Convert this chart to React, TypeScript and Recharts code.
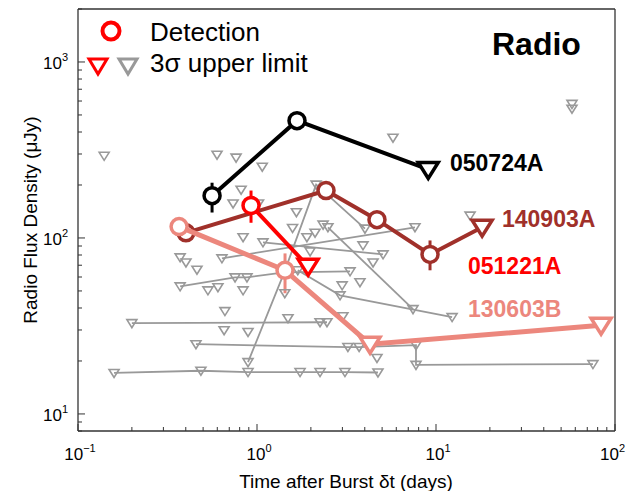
import React from 'react';
import { ScatterChart, Scatter, XAxis, YAxis, ErrorBar } from 'recharts';

const FONT = '"Liberation Sans", Arial, Helvetica, sans-serif';

type Pt = { t: number; f: number; ul?: boolean; lo?: number; hi?: number };

// Highlighted bursts (t in days, f in microJy); ul = 3-sigma upper limit
const grb050724A: Pt[] = [
  { t: 0.561, f: 174, lo: 139.5, hi: 206 },
  { t: 1.673, f: 464 },
  { t: 9.05, f: 245, ul: true },
];
const grb140903A: Pt[] = [
  { t: 0.401, f: 107 },
  { t: 2.43, f: 186 },
  { t: 4.68, f: 127 },
  { t: 9.26, f: 80.6, lo: 65.5, hi: 96.8 },
  { t: 18.1, f: 115, ul: true },
];
const grb051221A: Pt[] = [
  { t: 0.926, f: 153, lo: 122, hi: 186 },
  { t: 1.93, f: 69, ul: true },
];
const grb130603B: Pt[] = [
  { t: 0.367, f: 116 },
  { t: 1.434, f: 65.5, lo: 48.5, hi: 81.7 },
  { t: 4.28, f: 24.9, ul: true },
  { t: 83.6, f: 31.9, ul: true },
];

// Other bursts: grey upper-limit tracks
const grey1: Pt[] = [
  { t: 0.159, f: 17.1 }, { t: 0.486, f: 17.6 }, { t: 0.891, f: 17.3 }, { t: 1.74, f: 17.3 },
  { t: 2.25, f: 17.3 }, { t: 3.1, f: 17.3 }, { t: 4.74, f: 17.2 },
];
const grey2: Pt[] = [
  { t: 0.456, f: 24.9 }, { t: 3.22, f: 24.0 }, { t: 3.72, f: 24.0 }, { t: 7.73, f: 24.6 },
  { t: 7.73, f: 19.0 }, { t: 75.3, f: 19.2 },
];
const grey3: Pt[] = [{ t: 0.2, f: 32.8 }, { t: 2.25, f: 33.2 }, { t: 2.46, f: 33.2 }];
const grey4: Pt[] = [{ t: 0.891, f: 19.7 }, { t: 1.42, f: 63.8 }, { t: 2.14, f: 201 }, { t: 4.01, f: 113 }];
const grey5: Pt[] = [{ t: 0.637, f: 76.6 }, { t: 7.63, f: 115 }];
const grey6: Pt[] = [
  { t: 0.372, f: 53.1 }, { t: 0.754, f: 59.7 }, { t: 0.879, f: 59.7 }, { t: 1.42, f: 63.8 }, { t: 3.31, f: 64.6 },
];
const grey7: Pt[] = [{ t: 1.08, f: 94.4 }, { t: 5.06, f: 80.7 }];
const grey8: Pt[] = [{ t: 2.49, f: 115 }, { t: 7.44, f: 39.4 }];
const grey9: Pt[] = [{ t: 1.69, f: 65.5 }, { t: 2.91, f: 47.2 }, { t: 12.3, f: 35.5 }];
const greyTracks = [grey1, grey2, grey3, grey4, grey5, grey6, grey7, grey8, grey9];

const greySingles: Pt[] = [
  { t: 0.14, f: 293 }, { t: 0.598, f: 297 }, { t: 0.764, f: 286 }, { t: 1.07, f: 254 },
  { t: 0.815, f: 188 }, { t: 0.735, f: 157 }, { t: 1.02, f: 157 }, { t: 1.66, f: 140 },
  { t: 1.58, f: 114 }, { t: 0.836, f: 101 }, { t: 0.372, f: 77.6 }, { t: 0.401, f: 72.6 },
  { t: 0.462, f: 66 }, { t: 0.532, f: 50.4 }, { t: 0.605, f: 52.5 }, { t: 0.836, f: 50.4 },
  { t: 0.662, f: 38.4 }, { t: 0.655, f: 29.9 }, { t: 0.891, f: 29.2 }, { t: 1.49, f: 35.0 },
  { t: 1.43, f: 48.5 }, { t: 1.9, f: 101 }, { t: 2.11, f: 107 }, { t: 2.34, f: 119 },
  { t: 3.91, f: 90.8 }, { t: 1.98, f: 83.9 }, { t: 4.45, f: 72.6 }, { t: 3.76, f: 56.0 },
  { t: 2.99, f: 53.8 }, { t: 3.02, f: 35.9 }, { t: 4.68, f: 20.8 }, { t: 15.5, f: 134 },
  { t: 57.5, f: 578 }, { t: 57.5, f: 542 }, { t: 5.75, f: 371 },
];

const xMajor = [0.1, 1, 10, 100];
const xTicks = [
  0.1, 0.2, 0.3, 0.4, 0.5, 0.6, 0.7, 0.8, 0.9, 1, 2, 3, 4, 5, 6, 7, 8, 9, 10,
  20, 30, 40, 50, 60, 70, 80, 90, 100,
];
const yMajor = [10, 100, 1000];
const yTicks = [
  8, 9, 10, 20, 30, 40, 50, 60, 70, 80, 90, 100, 200, 300, 400, 500, 600, 700, 800, 900, 1000, 2000,
];

const BLACK = '#000000';
const BROWN = '#a0302a';
const RED = '#ff0000';
const PINK = '#ec877d';
const GREY = '#999999';
const AXIS = '#333333';

const expText = (v: number) => {
  const e = Math.round(Math.log10(v));
  return e < 0 ? '\u2212' + Math.abs(e) : String(e);
};

function makeTick(side: 'bottom' | 'top' | 'left' | 'right', majors: number[]) {
  return (props: any) => {
    const { x, y, payload } = props;
    const v = payload.value;
    const major = majors.some((m) => Math.abs(m - v) < 1e-9);
    const L = major ? 7 : 4;
    let ln: React.ReactElement;
    if (side === 'bottom') ln = <line x1={x} y1={y} x2={x} y2={y - L} stroke={AXIS} strokeWidth={1} />;
    else if (side === 'top') ln = <line x1={x} y1={y} x2={x} y2={y + L} stroke={AXIS} strokeWidth={1} />;
    else if (side === 'left') ln = <line x1={x} y1={y} x2={x + L} y2={y} stroke={AXIS} strokeWidth={1} />;
    else ln = <line x1={x} y1={y} x2={x - L} y2={y} stroke={AXIS} strokeWidth={1} />;
    let label: React.ReactElement | null = null;
    if (major && side === 'bottom') {
      const last = v >= 100;
      label = (
        <text
          x={last ? x + 10 : x + 2}
          y={y + 29}
          textAnchor={last ? 'end' : 'middle'}
          fontFamily={FONT}
          fontSize={17}
          fill="#000"
        >
          10<tspan fontSize={11} dy={-8}>{expText(v)}</tspan>
        </text>
      );
    } else if (major && side === 'left') {
      label = (
        <text x={x - 10} y={y + 7} textAnchor="end" fontFamily={FONT} fontSize={17} fill="#000">
          10<tspan fontSize={11} dy={-8}>{expText(v)}</tspan>
        </text>
      );
    }
    return (
      <g>
        {ln}
        {label}
      </g>
    );
  };
}

const mainShape = (color: string) => (p: any) => {
  const { cx, cy, payload } = p;
  if (payload && payload.ul) {
    return (
      <path
        d={`M${cx - 10},${cy - 7}L${cx + 10},${cy - 7}L${cx},${cy + 9}Z`}
        fill="#fff"
        stroke={color}
        strokeWidth={3.5}
        strokeLinejoin="miter"
      />
    );
  }
  return <circle cx={cx} cy={cy} r={8} fill="#fff" stroke={color} strokeWidth={3.5} />;
};

const greyShape = (p: any) => {
  const { cx, cy } = p;
  return (
    <path
      d={`M${cx - 5},${cy - 3.5}L${cx + 5},${cy - 3.5}L${cx},${cy + 4.5}Z`}
      fill="none"
      stroke={GREY}
      strokeWidth={1.6}
    />
  );
};

const errOf = (d: Pt) => (d.lo !== undefined && d.hi !== undefined ? [d.f - d.lo, d.hi - d.f] : [0, 0]);

const mainSeries: { name: string; data: Pt[]; color: string; width: number }[] = [
  { name: '050724A', data: grb050724A, color: BLACK, width: 4 },
  { name: '140903A', data: grb140903A, color: BROWN, width: 4 },
  { name: '130603B', data: grb130603B, color: PINK, width: 5 },
  { name: '051221A', data: grb051221A, color: RED, width: 4 },
];

export default function App() {
  return (
    <div style={{ position: 'absolute', left: 0, top: 0, width: 628, height: 491, background: '#fff' }}>
      <ScatterChart width={628} height={491} margin={{ top: 8, right: 12, bottom: 59, left: 77 }}>
        <XAxis
          xAxisId={0}
          dataKey="t"
          type="number"
          scale="log"
          domain={[0.1, 100]}
          ticks={xTicks}
          interval={0}
          height={1}
          tickSize={0}
          tickMargin={0}
          tickLine={false}
          axisLine={{ stroke: AXIS, strokeWidth: 1.3 }}
          tick={makeTick('bottom', xMajor)}
        />
        <XAxis
          xAxisId="top"
          orientation="top"
          dataKey="t"
          type="number"
          scale="log"
          domain={[0.1, 100]}
          ticks={xTicks}
          interval={0}
          height={1}
          tickSize={0}
          tickMargin={0}
          tickLine={false}
          axisLine={{ stroke: AXIS, strokeWidth: 1.3 }}
          tick={makeTick('top', xMajor)}
        />
        <YAxis
          yAxisId={0}
          dataKey="f"
          type="number"
          scale="log"
          domain={[8, 2000]}
          ticks={yTicks}
          interval={0}
          width={1}
          tickSize={0}
          tickMargin={0}
          tickLine={false}
          axisLine={{ stroke: AXIS, strokeWidth: 1.3 }}
          tick={makeTick('left', yMajor)}
        />
        <YAxis
          yAxisId="right"
          orientation="right"
          dataKey="f"
          type="number"
          scale="log"
          domain={[8, 2000]}
          ticks={yTicks}
          interval={0}
          width={1}
          tickSize={0}
          tickMargin={0}
          tickLine={false}
          axisLine={{ stroke: AXIS, strokeWidth: 1.3 }}
          tick={makeTick('right', yMajor)}
        />
        {greyTracks.map((tr, i) => (
          <Scatter
            key={'g' + i}
            data={tr}
            xAxisId={0}
            yAxisId={0}
            isAnimationActive={false}
            line={{ stroke: GREY, strokeWidth: 1.8 }}
            lineType="joint"
            shape={greyShape}
          />
        ))}
        <Scatter data={greySingles} xAxisId={0} yAxisId={0} isAnimationActive={false} shape={greyShape} />
        {mainSeries.map((s) => (
          <Scatter
            key={s.name}
            name={s.name}
            data={s.data}
            xAxisId={0}
            yAxisId={0}
            isAnimationActive={false}
            line={{ stroke: s.color, strokeWidth: s.width }}
            lineType="joint"
            shape={mainShape(s.color)}
          >
            <ErrorBar dataKey={errOf as any} direction="y" width={0} stroke={s.color} strokeWidth={3} />
          </Scatter>
        ))}
      </ScatterChart>
      <svg
        width={628}
        height={491}
        style={{ position: 'absolute', left: 0, top: 0, pointerEvents: 'none' }}
      >
        <circle cx={111} cy={31} r={8.5} fill="#fff" stroke={RED} strokeWidth={4} />
        <text x={150} y={41} fontFamily={FONT} fontSize={26} fill="#000">Detection</text>
        <path d="M89,59L107,59L98,74Z" fill="#fff" stroke={RED} strokeWidth={3} />
        <path d="M119,59L137,59L128,74Z" fill="#fff" stroke={GREY} strokeWidth={3} />
        <text x={150} y={72} fontFamily={FONT} fontSize={26} fill="#000">3σ upper limit</text>
        <text x={492} y={55} fontFamily={FONT} fontSize={32} fontWeight="bold" fill="#000">Radio</text>
        <text x={450} y={171} fontFamily={FONT} fontSize={23} fontWeight="bold" fill={BLACK}>050724A</text>
        <text x={502} y={227} fontFamily={FONT} fontSize={23} fontWeight="bold" fill={BROWN}>140903A</text>
        <text x={468} y={274} fontFamily={FONT} fontSize={23} fontWeight="bold" fill={RED}>051221A</text>
        <text x={468} y={317} fontFamily={FONT} fontSize={23} fontWeight="bold" fill={PINK}>130603B</text>
        <text x={346} y={488} textAnchor="middle" fontFamily={FONT} fontSize={19} fill="#000">
          Time after Burst δt (days)
        </text>
        <text
          transform="translate(37,220) rotate(-90)"
          textAnchor="middle"
          fontFamily={FONT}
          fontSize={19}
          fill="#000"
        >
          Radio Flux Density (μJy)
        </text>
      </svg>
    </div>
  );
}
